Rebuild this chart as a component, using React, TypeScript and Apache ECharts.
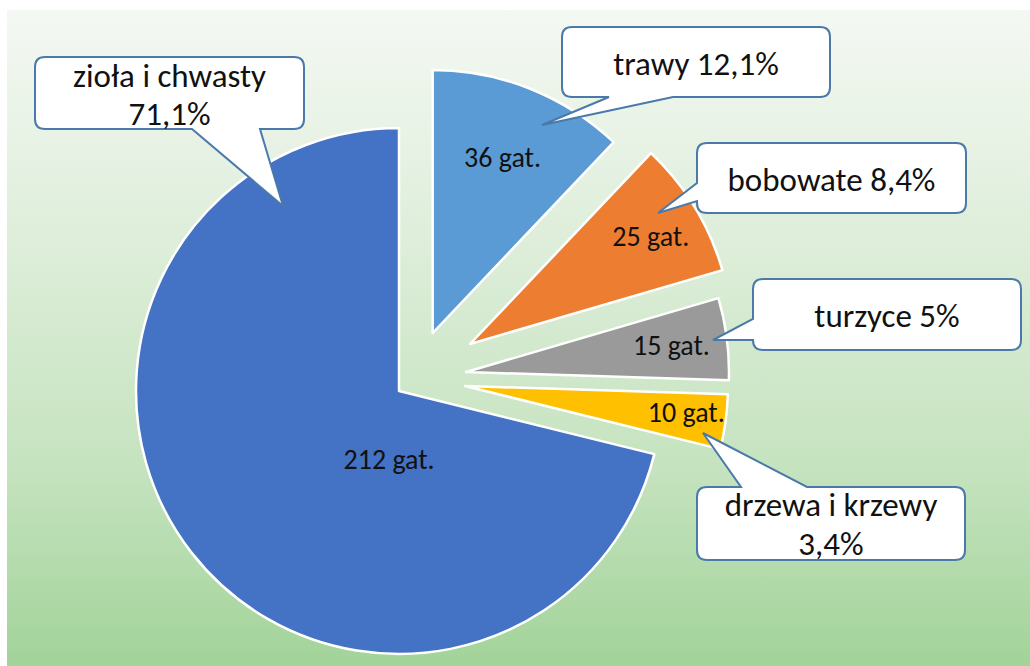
import React, { useEffect, useRef } from "react";
import * as echarts from "echarts";

// ---- data ----
const categories = ["zioła i chwasty", "trawy", "bobowate", "turzyce", "drzewa i krzewy"];
const speciesCounts = [212, 36, 25, 15, 10];
const percentLabels = ["71,1%", "12,1%", "8,4%", "5%", "3,4%"];
const sliceColors = ["#4472C4", "#5B9BD5", "#ED7D31", "#9A9A9A", "#FFC000"];

// ---- layout (positions / styles only) ----
const FONT = "Carlito, Lato, sans-serif";
const RADIUS = 263;
// pie centre for each exploded slice
const sliceCenters: [number, number][] = [
  [399, 391],
  [432.7, 333],
  [470, 344],
  [466, 372],
  [465, 386],
];
// inner label nudges
const innerLabelShift: [number, number][] = [
  [96, -14],
  [20, -51],
  [66, -37],
  [72, -10],
  [88, 8],
];

type Callout = {
  x0: number; y0: number; x1: number; y1: number;
  side: "top" | "bottom" | "left";
  a: number; c: number; tip: [number, number];
  lines: (i: number) => string[];
  lineY: number[];
};

const callouts: Callout[] = [
  { x0: 35, y0: 57, x1: 304, y1: 129, side: "bottom", a: 192, c: 260, tip: [283, 206],
    lines: (i) => [categories[i], percentLabels[i]], lineY: [76, 114] },
  { x0: 562, y0: 27, x1: 830, y1: 97, side: "bottom", a: 609, c: 673, tip: [542, 125],
    lines: (i) => [`${categories[i]} ${percentLabels[i]}`], lineY: [64] },
  { x0: 697, y0: 143, x1: 966, y1: 213, side: "left", a: 183, c: 201, tip: [658, 213],
    lines: (i) => [`${categories[i]} ${percentLabels[i]}`], lineY: [180] },
  { x0: 753, y0: 279, x1: 1021, y1: 350, side: "left", a: 319, c: 340, tip: [713, 340],
    lines: (i) => [`${categories[i]} ${percentLabels[i]}`], lineY: [316] },
  { x0: 697, y0: 487, x1: 965, y1: 560, side: "top", a: 741, c: 807, tip: [703, 433],
    lines: (i) => [categories[i], percentLabels[i]], lineY: [505, 544] },
];

function calloutPath(b: Callout, r = 10): string {
  const { x0, y0, x1, y1, side, a, c } = b;
  const [tx, ty] = b.tip;
  let d = `M${x0 + r},${y0}`;
  if (side === "top") d += `L${a},${y0}L${tx},${ty}L${c},${y0}`;
  d += `L${x1 - r},${y0}Q${x1},${y0},${x1},${y0 + r}`;
  d += `L${x1},${y1 - r}Q${x1},${y1},${x1 - r},${y1}`;
  if (side === "bottom") d += `L${c},${y1}L${tx},${ty}L${a},${y1}`;
  d += `L${x0 + r},${y1}Q${x0},${y1},${x0},${y1 - r}`;
  if (side === "left") d += `L${x0},${c}L${tx},${ty}L${x0},${a}`;
  d += `L${x0},${y0 + r}Q${x0},${y0},${x0 + r},${y0}Z`;
  return d;
}

callouts.forEach((c, i) => {
  echarts.graphic.registerShape(`callout${i}`, echarts.graphic.extendPath(calloutPath(c), {}) as any);
});

export default function App() {
  const ref = useRef<HTMLDivElement>(null);

  useEffect(() => {
    if (!ref.current) return;
    const chart = echarts.init(ref.current, undefined, { renderer: "svg" });
    const total = speciesCounts.reduce((s, v) => s + v, 0);
    const startAngle = 90 + (360 * speciesCounts[0]) / total;

    const series = categories.map((_, si) => ({
      type: "pie" as const,
      center: sliceCenters[si],
      radius: [0, RADIUS],
      startAngle,
      clockwise: true,
      silent: true,
      avoidLabelOverlap: false,
      selectedMode: false,
      emphasis: { disabled: true },
      labelLine: { show: false },
      z: 2,
      labelLayout: () => ({ dx: innerLabelShift[si][0], dy: innerLabelShift[si][1] }),
      data: categories.map((name, j) => ({
        name,
        value: speciesCounts[j],
        itemStyle:
          j === si
            ? { color: sliceColors[j], borderColor: "#ffffff", borderWidth: 2.5 }
            : { color: "transparent", borderWidth: 0 },
        label: {
          show: j === si,
          position: "inside",
          formatter: (p: any) => `${p.value} gat.`,
          fontFamily: FONT,
          fontSize: 28,
          color: "#111111",
        },
      })),
    }));

    const graphics: any[] = [
      {
        type: "rect",
        z: -10,
        shape: { x: 7, y: 10, width: 1023, height: 656 },
        style: {
          fill: {
            type: "linear", x: 0, y: 0, x2: 0, y2: 1,
            colorStops: [
              { offset: 0, color: "#f4f8f3" },
              { offset: 0.35, color: "#deeeda" },
              { offset: 0.7, color: "#c5e3bf" },
              { offset: 1, color: "#a2d399" },
            ],
          },
        },
        silent: true,
      },
    ];

    callouts.forEach((c, i) => {
      graphics.push({
        type: `callout${i}`,
        z: 100,
        x: 0,
        y: 0,
        scaleX: 1,
        scaleY: 1,
        style: { fill: "#ffffff", stroke: "#4A79AA", lineWidth: 2 },
        silent: true,
      });
      const cx = (c.x0 + c.x1) / 2;
      c.lines(i).forEach((t, k) => {
        graphics.push({
          type: "text",
          z: 101,
          silent: true,
          style: {
            x: cx,
            y: c.lineY[k],
            text: t,
            textAlign: "center",
            textVerticalAlign: "middle",
            fontFamily: FONT,
            fontSize: 33,
            fill: "#111111",
          },
        });
      });
    });

    chart.setOption({
      animation: false,
      backgroundColor: "#ffffff",
      graphic: { elements: graphics },
      series,
    });

    return () => chart.dispose();
  }, []);

  return (
    <div
      ref={ref}
      style={{ position: "absolute", left: 0, top: 0, width: 1030, height: 666 }}
    />
  );
}
